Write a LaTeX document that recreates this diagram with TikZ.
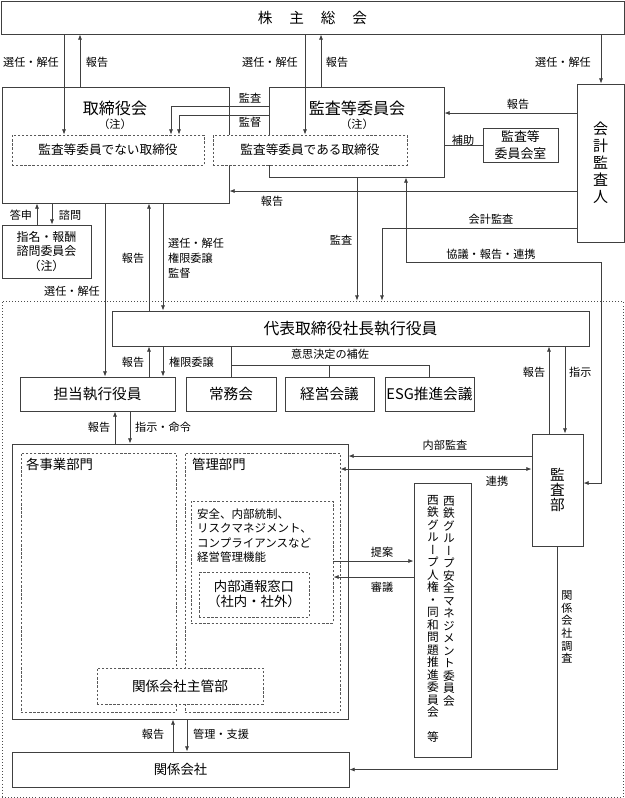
\documentclass[tikz,border=0pt]{standalone}
\usepackage{fontspec}
\setmainfont{Noto Sans CJK JP}
\newfontfamily\tatefont[RawFeature=+vert]{Noto Sans CJK JP}
\usetikzlibrary{arrows.meta}

\begin{document}
\begin{tikzpicture}[x=0.03cm,y=-0.03cm,
		line/.style={draw=black!75, line width=0.7pt},
		box/.style={line, fill=white, inner sep=0pt},
		dbox/.style={draw=black!65, line width=0.7pt, dash pattern=on 2pt off 1.5pt, fill=white, inner sep=0pt},
		arr/.style={line, -{Latex[length=4.5pt,width=3.5pt]}},
		darr/.style={line, {Latex[length=4.5pt,width=3.5pt]}-{Latex[length=4.5pt,width=3.5pt]}},
		lbl/.style={font=\fontsize{9.5}{12.8}\selectfont, inner sep=0pt},
		midtxt/.style={font=\fontsize{11.4}{12.8}\selectfont, align=center},
		bigtxt/.style={font=\fontsize{12.5}{14}\selectfont, align=center}]
	\useasboundingbox (0,0) rectangle (625,798);

	% executive area
	\node[draw=black!70, line width=0.6pt, dotted, minimum width=18.63cm, minimum height=14.88cm] (shikko) at (312.5,549) {};

	\node[box, bigtxt, minimum width=18.69cm, minimum height=0.99cm] (soukai) at (312.5,17.5) {株\hspace{1.15em}主\hspace{1.15em}総\hspace{1.15em}会};

	\node[box, minimum width=6.81cm, minimum height=3.48cm] (tori) at (115.5,145) {};
	\node[font=\fontsize{13.7}{15}\selectfont] (torilbl) at (115,108) {取締役会};
	\node[lbl] (torichu) at (115,124) {（注）};
	\node[box, minimum width=5.25cm, minimum height=2.70cm] (kansakai) at (356.5,132) {};
	\node[font=\fontsize{13.7}{15}\selectfont] (kansakailbl) at (357,108) {監査等委員会};
	\node[lbl] (kansakaichu) at (357,124) {（注）};
	\node[dbox, font=\fontsize{10.8}{12}\selectfont, minimum width=5.76cm, minimum height=0.90cm] (hikansa) at (108,150) {監査等委員でない取締役};
	\node[dbox, font=\fontsize{10.8}{12}\selectfont, minimum width=5.82cm, minimum height=0.90cm] (kansatori) at (310,150) {監査等委員である取締役};
	\node[box, font=\fontsize{11}{14.5}\selectfont, align=center, minimum width=2.25cm, minimum height=1.02cm] (kansashitsu) at (520.5,145) {監査等\\委員会室};
	\node[box, font=\fontsize{12.8}{14.5}\selectfont, align=center, minimum width=1.41cm, minimum height=4.74cm] (kaikei) at (600.5,163) {会\\計\\監\\査\\人};
	\node[box, font=\fontsize{10.2}{12.4}\selectfont, align=center, minimum width=2.67cm, minimum height=1.59cm] (shimei) at (46.5,251.5) {指名・報酬\\諮問委員会\\（注）};

	\node[box, font=\fontsize{13.5}{15}\selectfont, minimum width=14.31cm, minimum height=1.05cm] (daihyo) at (350.5,328.5) {代表取締役社長執行役員};
	\node[box, bigtxt, minimum width=4.65cm, minimum height=1.02cm] (tanto) at (97.5,394) {担当執行役員};
	\node[box, bigtxt, minimum width=2.70cm, minimum height=1.02cm] (jomu) at (231,394) {常務会};
	\node[box, bigtxt, minimum width=2.67cm, minimum height=1.02cm] (keiei) at (329.5,394) {経営会議};
	\node[box, bigtxt, minimum width=2.67cm, minimum height=1.02cm] (esg) at (429.5,394) {ESG推進会議};
	\node[box, font=\fontsize{12.5}{12.8}\selectfont, align=center, minimum width=1.53cm, minimum height=3.36cm] (kansabu) at (557.5,490) {監\\査\\部};

	\node[box, minimum width=10.08cm, minimum height=8.25cm] (jigyo) at (180,581.5) {};
	\node[dbox, minimum width=4.65cm, minimum height=7.77cm] (kakujigyo) at (98.5,582.5) {};
	\node[dbox, minimum width=4.65cm, minimum height=7.77cm] (kanri) at (262.5,582.5) {};
	\node[midtxt, anchor=west, inner sep=0pt] (kakujigyolbl) at (26,464) {各事業部門};
	\node[midtxt, anchor=west, inner sep=0pt] (kanrilbl) at (192,464) {管理部門};
	\node[dbox, minimum width=4.26cm, minimum height=3.66cm] (kanriin) at (262,562) {};
	\node[lbl, font=\fontsize{9.8}{12.4}\selectfont, align=left, anchor=west] (kanriintxt) at (197,535.5) {安全、内部統制、\\リスクマネジメント、\\コンプライアンスなど\\経営管理機能};
	\node[dbox, midtxt, minimum width=3.30cm, minimum height=1.35cm] (tsuho) at (254,594.5) {内部通報窓口\\（社内・社外）};
	\node[dbox, font=\fontsize{11.7}{13}\selectfont, minimum width=4.98cm, minimum height=1.08cm] (shukan) at (180,686) {関係会社主管部};

	\node[box, minimum width=1.71cm, minimum height=8.22cm] (iinkai) at (442.5,620) {};
	\node[font=\tatefont\fontsize{10}{10.67}\selectfont, align=center, inner sep=0pt] (anzen) at (449,601) {西\\鉄\\グ\\ル\\ー\\プ\\安\\全\\マ\\ネ\\ジ\\メ\\ン\\ト\\委\\員\\会};
	\node[font=\tatefont\fontsize{10}{10.67}\selectfont, align=center, inner sep=0pt] (jinken) at (433,619) {西\\鉄\\グ\\ル\\ー\\プ\\人\\権\\・\\同\\和\\問\\題\\推\\進\\委\\員\\会\\　\\等};

	\node[box, midtxt, minimum width=10.11cm, minimum height=1.05cm] (kankei) at (180.5,769.5) {関係会社};

	% 株主総会から
	\draw[arr] (soukai.south -| 64,0) -- (hikansa.north -| 64,0);
	\draw[arr] (tori.north -| 80,0) -- (soukai.south -| 80,0);
	\draw[arr] (soukai.south -| 305,0) -- (kansatori.north -| 305,0);
	\draw[arr] (kansakai.north -| 321,0) -- (soukai.south -| 321,0);
	\draw[arr] (soukai.south -| 601,0) -- (kaikei.north -| 601,0);
	\node[lbl] at (31,62) {選任・解任};
	\node[lbl] at (97,62) {報告};
	\node[lbl] at (270,62) {選任・解任};
	\node[lbl] at (337,62) {報告};
	\node[lbl] at (563,62) {選任・解任};

	\draw[arr] (kansakai.west |- 0,106) -| (hikansa.north -| 171,0);
	\draw[arr] (kansakai.west |- 0,115) -| (hikansa.north -| 179,0);
	\node[lbl] at (250,98) {監査};
	\node[lbl] at (250,122) {監督};

	\draw[arr] (kaikei.west |- 0,113) -- (kansakai.east |- 0,113);
	\node[lbl] at (518,104) {報告};
	\draw[line] (kansakai.east |- kansashitsu.west) -- (kansashitsu.west);
	\node[lbl] at (463,140) {補助};
	\draw[arr] (kaikei.west |- 0,191) -- (tori.east |- 0,191);
	\node[lbl] at (272,201) {報告};

	\draw[arr] (kansakai.south -| 357,0) -- (shikko.north -| 357,0);
	\node[lbl] at (341,240) {監査};
	\draw[arr] (kaikei.west |- 0,228) -| (shikko.north -| 382,0);
	\node[lbl] at (491,219) {会計監査};
	\draw[darr] (kansakai.south -| 406,0) |- (601,262) |- (kansabu.east |- 0,483);
	\node[lbl] at (491,254) {協議・報告・連携};

	% 取締役会から
	\draw[arr] (shimei.north -| 37,0) -- (tori.south -| 37,0);
	\draw[arr] (tori.south -| 52,0) -- (shimei.north -| 52,0);
	\node[lbl] at (21,215) {答申};
	\node[lbl] at (70,215) {諮問};
	\draw[arr] (tori.south -| 105,0) -- (tanto.north -| 105,0);
	\node[lbl] at (72,291) {選任・解任};
	\draw[arr] (daihyo.north -| 149,0) -- (tori.south -| 149,0);
	\draw[arr] (tori.south -| 163,0) -- (daihyo.north -| 163,0);
	\node[lbl] at (133,258) {報告};
	\node[lbl, align=left, anchor=west] at (168,258) {選任・解任\\権限委譲\\監督};

	% 代表取締役社長執行役員から
	\draw[arr] (tanto.north -| 149,0) -- (daihyo.south -| 149,0);
	\draw[arr] (daihyo.south -| 163,0) -- (tanto.north -| 163,0);
	\node[lbl] at (133,362) {報告};
	\node[lbl, anchor=west] at (169,362) {権限委譲};
	\draw[line] (daihyo.south -| jomu.north) -- (jomu.north);
	\draw[line] (jomu.north |- 0,365) -| (esg.north);
	\draw[line] (keiei.north |- 0,365) -- (keiei.north);
	\node[lbl] at (330,354) {意思決定の補佐};
	\draw[arr] (kansabu.north -| 549,0) -- (daihyo.south -| 549,0);
	\draw[arr] (daihyo.south -| 565,0) -- (kansabu.north -| 565,0);
	\node[lbl] at (534,372) {報告};
	\node[lbl, anchor=west] at (569,372) {指示};

	\draw[arr] (jigyo.north -| 115,0) -- (tanto.south -| 115,0);
	\draw[arr] (tanto.south -| 130,0) -- (jigyo.north -| 130,0);
	\node[lbl] at (99,427) {報告};
	\node[lbl, anchor=west] at (135,427) {指示・命令};

	% 監査部から
	\draw[arr] (kansabu.west |- 0,456) -- (jigyo.east |- 0,456);
	\node[lbl] at (445,445) {内部監査};
	\draw[darr] (kanri.east |- 0,469) -- (kansabu.west |- 0,469);
	\node[lbl] at (497,481) {連携};
	\draw[arr] (kansabu.south) |- (kankei.east);
	\node[font=\tatefont\fontsize{9.5}{10.75}\selectfont, align=center, inner sep=0pt] (chosa) at (567,627) {関\\係\\会\\社\\調\\査};

	\draw[arr] (kanriin.east |- 0,561) -- (iinkai.west |- 0,561);
	\draw[arr] (iinkai.west |- 0,577) -- (kanriin.east |- 0,577);
	\node[lbl] at (382,552) {提案};
	\node[lbl] at (382,587) {審議};

	\draw[arr] (kankei.north -| 173,0) -- (jigyo.south -| 173,0);
	\draw[arr] (jigyo.south -| 187,0) -- (kankei.north -| 187,0);
	\node[lbl] at (153,734) {報告};
	\node[lbl, anchor=west] at (193,734) {管理・支援};
\end{tikzpicture}
\end{document}
